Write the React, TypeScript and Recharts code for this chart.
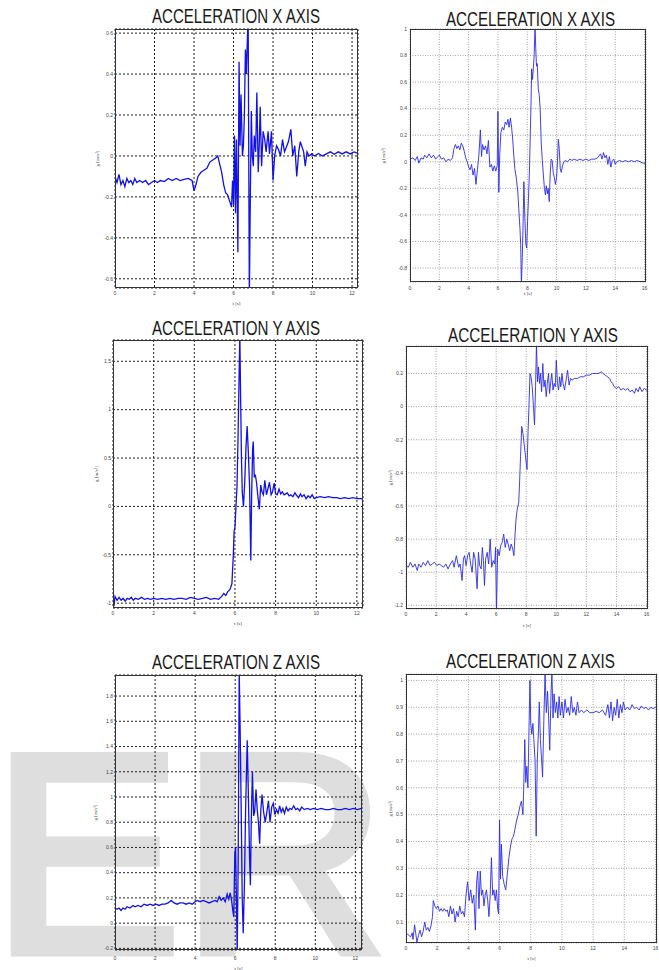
import React from 'react';
import { LineChart, Line, XAxis, YAxis, CartesianGrid } from 'recharts';

type Pt = [number, number];

// t [s], g [m/s^2]
const accXLeft: Pt[] = [
  [0, -0.1], [0.1, -0.13], [0.2, -0.09], [0.3, -0.14], [0.4, -0.12], [0.5, -0.15], [0.6, -0.11], [0.7, -0.13],
  [0.8, -0.12], [0.9, -0.14], [1.0, -0.11], [1.1, -0.13], [1.25, -0.12], [1.4, -0.13], [1.55, -0.12], [1.7, -0.14],
  [1.85, -0.13], [2.0, -0.12], [2.15, -0.13], [2.3, -0.12], [2.5, -0.125], [2.7, -0.11], [2.9, -0.12], [3.1, -0.11],
  [3.3, -0.12], [3.5, -0.115], [3.7, -0.11], [3.9, -0.12], [4.0, -0.17], [4.1, -0.14], [4.2, -0.1], [4.35, -0.08],
  [4.5, -0.07], [4.65, -0.06], [4.8, -0.03], [4.95, -0.02], [5.1, -0.01], [5.2, 0.0], [5.3, -0.04], [5.4, -0.08],
  [5.5, -0.14], [5.6, -0.18], [5.7, -0.19], [5.8, -0.22], [5.9, -0.25], [5.95, -0.12], [6.0, -0.24], [6.05, 0.1],
  [6.1, -0.28], [6.15, 0.08], [6.22, -0.47], [6.28, 0.46], [6.33, 0.05], [6.38, 0.3], [6.45, 0.0], [6.5, 0.05],
  [6.55, 0.2], [6.6, 0.52], [6.65, 0.4], [6.7, 0.57], [6.74, 0.7], [6.8, -0.7], [6.85, -0.2], [6.9, 0.22],
  [6.95, 0.0], [7.0, -0.05], [7.05, 0.1], [7.12, 0.02], [7.18, 0.31], [7.25, -0.08], [7.3, 0.05], [7.35, 0.24],
  [7.42, -0.05], [7.5, 0.12], [7.58, 0.08], [7.65, 0.02], [7.75, 0.12], [7.82, 0.01], [7.92, 0.12], [8.0, -0.12],
  [8.08, 0.0], [8.18, 0.05], [8.28, 0.03], [8.38, 0.0], [8.48, 0.08], [8.58, 0.02], [8.7, 0.05], [8.78, 0.07],
  [8.9, 0.13], [9.0, 0.0], [9.1, 0.05], [9.2, -0.1], [9.3, 0.02], [9.38, 0.07], [9.48, 0.04], [9.55, 0.02],
  [9.63, -0.05], [9.72, 0.02], [9.82, 0.0], [9.95, 0.01], [10.1, 0.0], [10.3, 0.012], [10.5, 0.0], [10.7, 0.01],
  [10.9, 0.02], [11.1, 0.008], [11.3, 0.02], [11.5, 0.01], [11.7, 0.02], [11.9, 0.01], [12.1, 0.02], [12.3, 0.012],
];

const accXRight: Pt[] = [
  [0, 0.02], [0.2, 0.03], [0.35, 0.01], [0.5, 0.04], [0.6, -0.01], [0.75, 0.03], [0.9, 0.02], [1.0, 0.05],
  [1.15, 0.03], [1.3, 0.06], [1.45, 0.03], [1.6, 0.05], [1.75, 0.02], [1.9, 0.04], [2.0, 0.05], [2.15, 0.02],
  [2.3, 0.03], [2.45, 0.0], [2.6, 0.02], [2.75, 0.01], [2.9, 0.03], [3.0, 0.1], [3.1, 0.13], [3.2, 0.1],
  [3.3, 0.12], [3.4, 0.09], [3.5, 0.14], [3.6, 0.12], [3.7, 0.08], [3.8, 0.03], [3.9, 0.0], [4.0, -0.04],
  [4.1, -0.06], [4.2, -0.02], [4.3, -0.1], [4.4, -0.05], [4.5, -0.17], [4.6, -0.06], [4.7, 0.05], [4.8, 0.24],
  [4.88, 0.04], [4.95, 0.13], [5.05, 0.09], [5.15, 0.12], [5.25, 0.06], [5.35, 0.16], [5.45, -0.04], [5.55, -0.02],
  [5.65, -0.07], [5.75, -0.03], [5.85, -0.07], [5.95, -0.03], [6.0, 0.38], [6.06, -0.23], [6.12, 0.05], [6.2, 0.22],
  [6.3, 0.26], [6.4, 0.24], [6.5, 0.3], [6.6, 0.28], [6.68, 0.32], [6.76, 0.26], [6.85, 0.33], [6.93, 0.26],
  [7.0, 0.18], [7.08, 0.05], [7.15, -0.05], [7.25, -0.12], [7.35, -0.22], [7.42, -0.35], [7.5, -0.5], [7.55, -0.62],
  [7.6, -0.92], [7.66, -0.72], [7.72, -0.45], [7.77, -0.15], [7.83, -0.4], [7.9, -0.62], [7.96, -0.65], [8.02, -0.45],
  [8.08, -0.28], [8.14, -0.1], [8.2, 0.18], [8.26, 0.45], [8.3, 0.7], [8.36, 0.62], [8.42, 0.72], [8.47, 0.8],
  [8.53, 1.02], [8.58, 0.85], [8.63, 0.72], [8.68, 0.74], [8.75, 0.55], [8.82, 0.5], [8.88, 0.4], [8.95, 0.15],
  [9.02, 0.02], [9.1, -0.1], [9.17, -0.2], [9.24, -0.25], [9.3, -0.18], [9.37, -0.24], [9.43, -0.2], [9.5, -0.3],
  [9.56, -0.1], [9.63, 0.02], [9.7, 0.01], [9.77, -0.08], [9.85, -0.12], [9.92, -0.17], [10.0, -0.12], [10.06, 0.0],
  [10.12, 0.17], [10.18, 0.1], [10.25, -0.05], [10.32, -0.08], [10.4, -0.03], [10.5, 0.0], [10.6, 0.01], [10.75, 0.0],
  [10.9, 0.02], [11.05, 0.01], [11.2, 0.02], [11.4, 0.01], [11.6, 0.02], [11.8, 0.01], [12.0, 0.02], [12.2, 0.01],
  [12.4, 0.02], [12.6, 0.02], [12.8, 0.03], [13.0, 0.06], [13.1, 0.02], [13.2, 0.07], [13.3, 0.03], [13.4, 0.05],
  [13.5, -0.02], [13.6, 0.04], [13.7, -0.04], [13.8, 0.01], [13.9, 0.02], [14.0, -0.02], [14.1, 0.0], [14.3, 0.01],
  [14.5, 0.0], [14.7, 0.01], [14.9, 0.0], [15.1, 0.01], [15.3, 0.0], [15.5, 0.01], [15.7, 0.0], [15.9, -0.01],
  [16.1, -0.01],
];

const accYLeft: Pt[] = [
  [0, -0.95], [0.05, -1.03], [0.1, -0.93], [0.2, -0.97], [0.3, -0.94], [0.4, -0.97], [0.5, -0.95], [0.6, -0.98],
  [0.7, -0.95], [0.8, -0.96], [0.9, -0.94], [1.0, -0.97], [1.1, -0.95], [1.25, -0.96], [1.4, -0.94], [1.55, -0.96],
  [1.7, -0.95], [1.85, -0.96], [2.0, -0.95], [2.2, -0.96], [2.4, -0.95], [2.6, -0.96], [2.8, -0.95], [3.0, -0.96],
  [3.2, -0.95], [3.4, -0.95], [3.6, -0.96], [3.8, -0.94], [4.0, -0.95], [4.2, -0.96], [4.4, -0.95], [4.6, -0.94],
  [4.8, -0.96], [5.0, -0.95], [5.2, -0.96], [5.35, -0.93], [5.45, -0.9], [5.55, -0.92], [5.65, -0.88], [5.75, -0.86],
  [5.85, -0.8], [5.92, -0.5], [5.96, -0.25], [6.0, -0.22], [6.05, 0.0], [6.1, 0.2], [6.15, 0.7], [6.2, 1.3],
  [6.24, 1.78], [6.28, 1.1], [6.32, 0.5], [6.36, 0.15], [6.42, 0.0], [6.48, 0.25], [6.54, 0.6], [6.6, 0.83],
  [6.66, 0.55], [6.72, 0.2], [6.78, -0.56], [6.82, 0.1], [6.87, 0.6], [6.9, 0.67], [6.95, 0.3], [7.0, 0.33],
  [7.06, 0.25], [7.12, 0.12], [7.2, -0.03], [7.27, 0.22], [7.33, 0.15], [7.4, 0.12], [7.47, 0.27], [7.55, 0.12],
  [7.62, 0.18], [7.7, 0.25], [7.78, 0.12], [7.85, 0.15], [7.93, 0.24], [8.0, 0.13], [8.08, 0.12], [8.17, 0.18],
  [8.25, 0.13], [8.33, 0.15], [8.42, 0.12], [8.5, 0.13], [8.58, 0.14], [8.66, 0.11], [8.75, 0.12], [8.85, 0.1],
  [8.95, 0.14], [9.05, 0.11], [9.13, 0.09], [9.22, 0.13], [9.3, 0.1], [9.4, 0.12], [9.5, 0.08], [9.6, 0.11],
  [9.7, 0.09], [9.8, 0.12], [9.9, 0.08], [10.0, 0.09], [10.2, 0.1], [10.4, 0.09], [10.6, 0.1], [10.8, 0.09],
  [11.0, 0.09], [11.2, 0.08], [11.4, 0.09], [11.6, 0.08], [11.8, 0.09], [12.0, 0.08], [12.3, 0.08],
];

const accYRight: Pt[] = [
  [0, -0.96], [0.15, -0.97], [0.3, -0.94], [0.45, -0.97], [0.6, -0.95], [0.75, -0.99], [0.85, -0.95], [1.0, -0.97],
  [1.15, -0.94], [1.3, -0.96], [1.45, -0.93], [1.6, -0.96], [1.75, -0.95], [1.9, -0.94], [2.05, -0.96], [2.2, -0.95],
  [2.35, -0.96], [2.5, -0.97], [2.65, -0.95], [2.8, -0.98], [2.95, -0.95], [3.1, -0.93], [3.2, -0.97], [3.35, -0.9],
  [3.5, -0.97], [3.6, -0.95], [3.73, -1.05], [3.82, -0.92], [3.9, -0.9], [4.0, -0.96], [4.1, -0.9], [4.2, -0.88],
  [4.3, -0.95], [4.4, -1.0], [4.5, -0.88], [4.6, -0.92], [4.73, -1.1], [4.82, -0.88], [4.9, -0.96], [5.0, -0.98],
  [5.08, -0.85], [5.15, -0.93], [5.22, -1.08], [5.3, -0.92], [5.4, -0.88], [5.5, -0.95], [5.6, -0.8], [5.7, -0.97],
  [5.8, -0.93], [5.9, -0.95], [5.96, -0.85], [6.02, -1.24], [6.1, -0.86], [6.2, -0.9], [6.3, -0.84], [6.4, -0.82],
  [6.5, -0.77], [6.6, -0.85], [6.7, -0.8], [6.8, -0.83], [6.9, -0.87], [7.0, -0.83], [7.1, -0.86], [7.18, -0.9],
  [7.25, -0.78], [7.32, -0.68], [7.4, -0.62], [7.5, -0.58], [7.56, -0.45], [7.62, -0.3], [7.7, -0.12], [7.78, -0.16],
  [7.85, -0.22], [7.95, -0.3], [8.05, -0.38], [8.12, -0.15], [8.18, 0.0], [8.25, 0.2], [8.32, 0.18], [8.4, 0.12],
  [8.48, 0.0], [8.55, -0.11], [8.62, 0.12], [8.68, 0.38], [8.75, 0.15], [8.82, 0.24], [8.88, 0.14], [8.95, 0.2],
  [9.02, 0.09], [9.1, 0.26], [9.18, 0.12], [9.25, 0.16], [9.33, 0.06], [9.4, 0.14], [9.48, 0.2], [9.55, 0.08],
  [9.63, 0.15], [9.7, 0.2], [9.78, 0.1], [9.86, 0.14], [9.93, 0.12], [10.0, 0.28], [10.08, 0.14], [10.15, 0.1],
  [10.22, 0.18], [10.3, 0.12], [10.38, 0.2], [10.45, 0.14], [10.55, 0.1], [10.65, 0.16], [10.75, 0.22], [10.85, 0.13],
  [10.95, 0.17], [11.05, 0.16], [11.2, 0.17], [11.4, 0.17], [11.6, 0.18], [11.8, 0.18], [12.0, 0.19], [12.2, 0.19],
  [12.4, 0.2], [12.6, 0.2], [12.8, 0.2], [13.0, 0.21], [13.1, 0.2], [13.25, 0.19], [13.4, 0.18], [13.55, 0.17],
  [13.65, 0.15], [13.75, 0.14], [13.85, 0.12], [14.0, 0.11], [14.15, 0.12], [14.3, 0.1], [14.45, 0.11], [14.6, 0.1],
  [14.75, 0.11], [14.9, 0.09], [15.05, 0.1], [15.2, 0.08], [15.3, 0.11], [15.45, 0.09], [15.55, 0.12], [15.7, 0.09],
  [15.85, 0.11], [16.0, 0.1], [16.1, 0.1],
];

const accZLeft: Pt[] = [
  [0, 0.12], [0.1, 0.11], [0.2, 0.12], [0.3, 0.1], [0.4, 0.12], [0.5, 0.11], [0.6, 0.13], [0.75, 0.12],
  [0.9, 0.14], [1.0, 0.13], [1.15, 0.14], [1.3, 0.13], [1.45, 0.15], [1.6, 0.14], [1.75, 0.15], [1.9, 0.14],
  [2.05, 0.15], [2.2, 0.14], [2.35, 0.15], [2.5, 0.15], [2.65, 0.16], [2.8, 0.18], [2.95, 0.16], [3.1, 0.15],
  [3.25, 0.16], [3.4, 0.16], [3.55, 0.15], [3.7, 0.16], [3.85, 0.15], [4.0, 0.17], [4.1, 0.18], [4.25, 0.17],
  [4.4, 0.18], [4.55, 0.17], [4.7, 0.16], [4.85, 0.17], [5.0, 0.18], [5.1, 0.17], [5.2, 0.21], [5.3, 0.18],
  [5.4, 0.2], [5.5, 0.17], [5.6, 0.23], [5.68, 0.19], [5.75, 0.24], [5.82, 0.18], [5.88, 0.1], [5.93, 0.05],
  [5.98, 0.55], [6.02, 0.6], [6.06, 0.2], [6.1, -0.25], [6.15, 0.5], [6.2, 2.0], [6.25, 1.5], [6.3, 0.9],
  [6.35, 0.2], [6.4, -0.08], [6.46, 0.3], [6.52, 0.9], [6.6, 1.45], [6.66, 1.0], [6.72, 0.5], [6.76, 0.3],
  [6.8, 0.8], [6.86, 1.2], [6.92, 0.85], [6.97, 0.88], [7.04, 1.06], [7.1, 0.9], [7.16, 0.8], [7.22, 0.63],
  [7.28, 0.9], [7.34, 1.02], [7.42, 0.88], [7.5, 0.8], [7.58, 0.88], [7.66, 0.97], [7.74, 0.8], [7.82, 0.92],
  [7.9, 0.95], [7.98, 0.86], [8.06, 0.9], [8.14, 0.87], [8.22, 0.93], [8.3, 0.88], [8.38, 0.91], [8.46, 0.87],
  [8.55, 0.92], [8.64, 0.89], [8.73, 0.91], [8.82, 0.9], [8.92, 0.93], [9.02, 0.9], [9.12, 0.91], [9.22, 0.89],
  [9.32, 0.92], [9.45, 0.9], [9.6, 0.91], [9.75, 0.9], [9.9, 0.91], [10.1, 0.9], [10.3, 0.91], [10.5, 0.9],
  [10.7, 0.9], [10.9, 0.91], [11.1, 0.9], [11.3, 0.9], [11.5, 0.91], [11.7, 0.9], [11.9, 0.91], [12.1, 0.9],
  [12.3, 0.91],
];

const accZRight: Pt[] = [
  [0, 0.05], [0.1, 0.055], [0.2, 0.05], [0.3, 0.045], [0.4, 0.06], [0.45, 0.035], [0.55, 0.09], [0.62, 0.06],
  [0.7, 0.025], [0.8, 0.05], [0.9, 0.07], [1.0, 0.045], [1.1, 0.065], [1.2, 0.1], [1.3, 0.07], [1.4, 0.08],
  [1.5, 0.065], [1.6, 0.085], [1.7, 0.12], [1.75, 0.18], [1.85, 0.16], [1.95, 0.15], [2.05, 0.16], [2.15, 0.14],
  [2.25, 0.15], [2.35, 0.14], [2.45, 0.15], [2.55, 0.14], [2.65, 0.145], [2.75, 0.12], [2.85, 0.16], [2.95, 0.13],
  [3.05, 0.15], [3.15, 0.1], [3.25, 0.14], [3.35, 0.12], [3.45, 0.16], [3.55, 0.13], [3.65, 0.14], [3.75, 0.12],
  [3.85, 0.2], [3.95, 0.25], [4.05, 0.18], [4.15, 0.22], [4.25, 0.17], [4.35, 0.2], [4.45, 0.07], [4.52, 0.24],
  [4.6, 0.29], [4.68, 0.15], [4.76, 0.29], [4.84, 0.2], [4.92, 0.22], [5.0, 0.16], [5.08, 0.2], [5.16, 0.22],
  [5.24, 0.18], [5.32, 0.12], [5.4, 0.2], [5.48, 0.34], [5.56, 0.2], [5.64, 0.22], [5.72, 0.18], [5.8, 0.22],
  [5.88, 0.15], [5.94, 0.13], [6.0, 0.48], [6.06, 0.26], [6.12, 0.39], [6.2, 0.27], [6.3, 0.24], [6.4, 0.22],
  [6.5, 0.28], [6.6, 0.34], [6.7, 0.38], [6.8, 0.41], [6.9, 0.42], [7.0, 0.45], [7.1, 0.48], [7.2, 0.5],
  [7.3, 0.53], [7.4, 0.55], [7.5, 0.5], [7.55, 0.6], [7.62, 0.78], [7.68, 0.62], [7.75, 0.68], [7.82, 0.6],
  [7.9, 0.85], [7.95, 1.0], [8.0, 0.84], [8.07, 0.8], [8.14, 0.84], [8.2, 0.78], [8.28, 0.7], [8.35, 0.42],
  [8.42, 0.7], [8.5, 0.82], [8.55, 0.92], [8.62, 0.78], [8.7, 0.7], [8.76, 0.64], [8.84, 0.85], [8.92, 1.03],
  [9.0, 0.88], [9.08, 0.96], [9.15, 0.86], [9.22, 0.74], [9.3, 0.95], [9.36, 1.03], [9.43, 0.86], [9.5, 0.95],
  [9.58, 0.88], [9.66, 0.92], [9.74, 0.86], [9.82, 0.94], [9.9, 0.87], [10.0, 0.92], [10.1, 0.86], [10.2, 0.93],
  [10.3, 0.88], [10.4, 0.9], [10.5, 0.87], [10.6, 0.94], [10.7, 0.88], [10.8, 0.9], [10.9, 0.87], [11.0, 0.92],
  [11.1, 0.88], [11.25, 0.89], [11.4, 0.88], [11.6, 0.89], [11.8, 0.88], [12.0, 0.88], [12.2, 0.885], [12.4, 0.88],
  [12.6, 0.89], [12.8, 0.87], [12.95, 0.91], [13.05, 0.86], [13.15, 0.92], [13.25, 0.85], [13.35, 0.9], [13.45, 0.87],
  [13.55, 0.93], [13.65, 0.86], [13.75, 0.91], [13.85, 0.88], [13.95, 0.92], [14.05, 0.89], [14.2, 0.9], [14.35, 0.89],
  [14.5, 0.91], [14.65, 0.895], [14.8, 0.9], [14.95, 0.89], [15.1, 0.905], [15.25, 0.895], [15.4, 0.9], [15.55, 0.89],
  [15.7, 0.9], [15.85, 0.895], [16.0, 0.9], [16.1, 0.895],
];

const tTicks12 = [0, 2, 4, 6, 8, 10, 12];
const tTicks16 = [0, 2, 4, 6, 8, 10, 12, 14, 16];
const gTicksXL = [-0.6, -0.4, -0.2, 0, 0.2, 0.4, 0.6];
const gTicksXR = [-0.8, -0.6, -0.4, -0.2, 0, 0.2, 0.4, 0.6, 0.8, 1];
const gTicksYL = [-1, -0.5, 0, 0.5, 1, 1.5];
const gTicksYR = [-1.2, -1, -0.8, -0.6, -0.4, -0.2, 0, 0.2];
const gTicksZL = [-0.2, 0, 0.2, 0.4, 0.6, 0.8, 1, 1.2, 1.4, 1.6, 1.8];
const gTicksZR = [0.1, 0.2, 0.3, 0.4, 0.5, 0.6, 0.7, 0.8, 0.9, 1];

const titles = ['ACCELERATION X AXIS', 'ACCELERATION Y AXIS', 'ACCELERATION Z AXIS'];

interface Panel {
  data: Pt[];
  title: string;
  // plot rect in page pixels
  left: number;
  top: number;
  right: number;
  bottom: number;
  xMax: number;
  yDomain: [number, number];
  xTicks: number[];
  yTicks: number[];
  titleX: number;
  titleBase: number;
  titleW: number;
  yLabelOff: number;
  xLabelOff: number;
  xTickGap: number;
  yTickGap: number;
  heavy: boolean;
}

const panels: Panel[] = [
  { data: accXLeft, title: titles[0], left: 115, top: 29, right: 358, bottom: 288, xMax: 12.3, yDomain: [-0.645, 0.62],
    xTicks: tTicks12, yTicks: gTicksXL, titleX: 152, titleBase: 23, titleW: 168, yLabelOff: 14, xLabelOff: 3, xTickGap: 3, yTickGap: 2, heavy: true },
  { data: accXRight, title: titles[0], left: 410, top: 29, right: 646, bottom: 282, xMax: 16.1, yDomain: [-0.905, 1],
    xTicks: tTicks16, yTicks: gTicksXR, titleX: 446, titleBase: 26, titleW: 169, yLabelOff: 5, xLabelOff: 7, xTickGap: 4, yTickGap: 3, heavy: false },
  { data: accYLeft, title: titles[1], left: 113, top: 340, right: 363, bottom: 608, xMax: 12.3, yDomain: [-1.05, 1.72],
    xTicks: tTicks12, yTicks: gTicksYL, titleX: 152, titleBase: 335, titleW: 168, yLabelOff: 15, xLabelOff: 3, xTickGap: 3, yTickGap: 2, heavy: true },
  { data: accYRight, title: titles[1], left: 406, top: 346, right: 648, bottom: 609, xMax: 16.1, yDomain: [-1.222, 0.366],
    xTicks: tTicks16, yTicks: gTicksYR, titleX: 448, titleBase: 342, titleW: 170, yLabelOff: 16, xLabelOff: 2, xTickGap: 3, yTickGap: 3, heavy: false },
  { data: accZLeft, title: titles[2], left: 115, top: 675, right: 362, bottom: 950, xMax: 12.33, yDomain: [-0.213, 1.967],
    xTicks: tTicks12, yTicks: gTicksZL, titleX: 152, titleBase: 669, titleW: 168, yLabelOff: 12, xLabelOff: 0, xTickGap: 6, yTickGap: 2, heavy: true },
  { data: accZRight, title: titles[2], left: 406, top: 674, right: 657, bottom: 943, xMax: 16.1, yDomain: [0.022, 1.024],
    xTicks: tTicks16, yTicks: gTicksZR, titleX: 446, titleBase: 668, titleW: 169, yLabelOff: 16, xLabelOff: 3, xTickGap: 3, yTickGap: 3, heavy: false },
];

const Y_W = 32;
const M_TOP = 4;
const M_RIGHT = 4;
const X_H = 20;

const fmt = (v: number) => String(+v.toFixed(2));

const PanelChart: React.FC<{ p: Panel }> = ({ p }) => {
  const plotW = p.right - p.left;
  const plotH = p.bottom - p.top;
  const rows = p.data.map(([t, g]) => ({ t, g }));
  const tickStyle = { fontSize: 5, fill: '#444', fontFamily: 'Liberation Sans, Arial, sans-serif' };
  return (
    <>
      <div style={{ position: 'absolute', left: p.left - Y_W, top: p.top - M_TOP }}>
        <LineChart width={Y_W + plotW + M_RIGHT} height={M_TOP + plotH + X_H} data={rows}
          margin={{ top: M_TOP, right: M_RIGHT, bottom: 0, left: 0 }}>
          <CartesianGrid
            stroke={p.heavy ? '#222' : '#666'}
            strokeWidth={p.heavy ? 1 : 0.6}
            strokeDasharray={p.heavy ? '2 2' : '1 1.5'}
          />
          <XAxis dataKey="t" type="number" domain={[0, p.xMax]} ticks={p.xTicks} interval={0}
            allowDataOverflow axisLine={false} tickLine={false} tickSize={0} tickMargin={p.xTickGap}
            height={X_H} tick={tickStyle}
            label={{ value: 't [s]', position: 'insideBottom', offset: p.xLabelOff, fontSize: 5, fill: '#444' }} />
          <YAxis type="number" domain={p.yDomain} ticks={p.yTicks} interval={0} allowDataOverflow
            axisLine={false} tickLine={false} tickSize={0} tickMargin={p.yTickGap} width={Y_W}
            tick={tickStyle} tickFormatter={fmt}
            label={{ value: 'g [m/s²]', angle: -90, position: 'insideLeft', offset: p.yLabelOff, fontSize: 5, fill: '#444', textAnchor: 'middle' }} />
          <Line type="linear" dataKey="g" dot={false} isAnimationActive={false}
            stroke={p.heavy ? '#1212e6' : '#2b2be8'} strokeWidth={p.heavy ? 1.3 : 0.9} />
        </LineChart>
      </div>
      <div style={{ position: 'absolute', left: p.left, top: p.top, width: plotW, height: plotH,
        border: '1px solid #333', boxSizing: 'border-box', pointerEvents: 'none' }} />
    </>
  );
};

export default function App() {
  return (
    <div style={{ position: 'absolute', left: 0, top: 0, width: 659, height: 970, overflow: 'hidden', background: '#fff' }}>
      <svg width={659} height={970} style={{ position: 'absolute', left: 0, top: 0 }}>
        <text x={-8} y={952} fontSize={284} fill="#dedede" stroke="#dedede" strokeWidth={9} strokeLinejoin="miter"
          fontFamily="Liberation Sans, Arial, sans-serif">ER</text>
        {panels.map((p, i) => (
          <text key={i} x={p.titleX} y={p.titleBase} fontSize={20} fill="#1a1a1a" textLength={p.titleW}
            lengthAdjust="spacingAndGlyphs" fontFamily="Liberation Sans, Arial, sans-serif">{p.title}</text>
        ))}
      </svg>
      {panels.map((p, i) => <PanelChart key={i} p={p} />)}
    </div>
  );
}
